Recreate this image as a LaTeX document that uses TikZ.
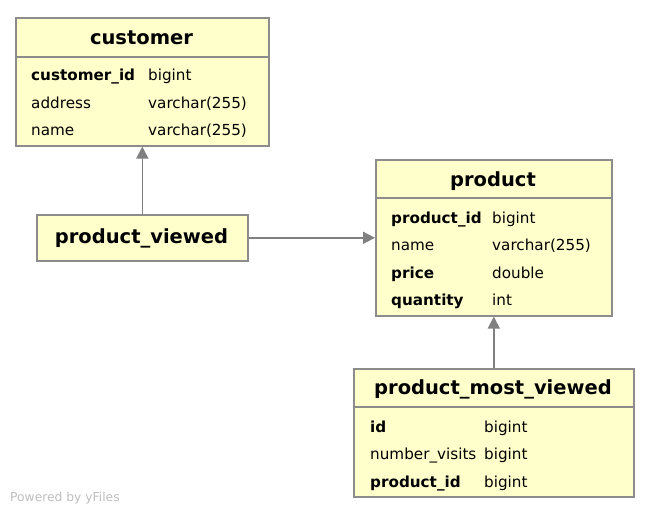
\documentclass[tikz,border=0pt]{standalone}
\usepackage{fontspec}
\setmainfont{DejaVu Sans}
\usepackage{tikz}
\usetikzlibrary{arrows.meta,positioning}
\definecolor{boxfill}{RGB}{255, 255, 204}
\definecolor{boxline}{RGB}{140, 140, 140}
\definecolor{linkgray}{RGB}{128, 128, 128}
\definecolor{credit}{RGB}{190, 190, 190}
\tikzstyle{table} = [rectangle, draw=boxline, line width=1.6pt, fill=boxfill, inner sep=0pt, anchor=north west]
\tikzstyle{title} = [inner sep=0pt, anchor=mid, text=black, font=\fontsize{19.5}{22}\selectfont\bfseries]
\tikzstyle{field} = [inner sep=0pt, anchor=mid west, text=black, font=\fontsize{15.2}{18}\selectfont]
\tikzstyle{key} = [field, font=\fontsize{15.2}{18}\selectfont\bfseries]
\tikzstyle{rule} = [draw=boxline, line width=1.6pt]
\tikzstyle{link} = [draw=linkgray, line width=1.6pt, -{Triangle[length=12pt,width=12pt]}]

\begin{document}
\begin{tikzpicture}[x=1pt, y=-1pt]

\useasboundingbox (0,0) rectangle (650,514);

% tables =============================

% customer
\node[table, minimum width=253pt, minimum height=128pt] (customer) at (15,17) {};
\draw[rule] (15,57) -- (268,57);
\node[title] (customer title) at (141.5,42) {customer};
\node[key] (cust id) at (31,78) {customer\_id};
\node[field] (cust id type) at (148,78) {bigint};
\node[field] (cust address) at (31,106) {address};
\node[field] (cust address type) at (148,106) {varchar(255)};
\node[field] (cust name) at (31,133) {name};
\node[field] (cust name type) at (148,133) {varchar(255)};

% product_viewed
\node[table, minimum width=211pt, minimum height=46pt] (viewed) at (36,214) {};
\node[title] (viewed title) at (141.5,241) {product\_viewed};

% product
\node[table, minimum width=236pt, minimum height=156pt] (product) at (375,159) {};
\draw[rule] (375,198) -- (611,198);
\node[title] (product title) at (493,184) {product};
\node[key] (prod id) at (391,221) {product\_id};
\node[field] (prod id type) at (492,221) {bigint};
\node[field] (prod name) at (391,248) {name};
\node[field] (prod name type) at (492,248) {varchar(255)};
\node[key] (prod price) at (391,276) {price};
\node[field] (prod price type) at (492,276) {double};
\node[key] (prod quantity) at (391,303) {quantity};
\node[field] (prod quantity type) at (492,303) {int};

% product_most_viewed
\node[table, minimum width=280pt, minimum height=128pt] (most) at (353,368) {};
\draw[rule] (353,407) -- (633,407);
\node[title] (most title) at (493,392) {product\_most\_viewed};
\node[key] (most id) at (370,430) {id};
\node[field] (most id type) at (484,430) {bigint};
\node[field] (most visits) at (370,457) {number\_visits};
\node[field] (most visits type) at (484,457) {bigint};
\node[key] (most prod) at (370,485) {product\_id};
\node[field] (most prod type) at (484,485) {bigint};

% credit
\node[field, text=credit, font=\fontsize{12.3}{14}\selectfont] (powered) at (10,499) {Powered by yFiles};

%edges
\path[link] (viewed) -- (customer);
\path[link] (viewed) -- (product);
\path[link] (most) -- (product);

\end{tikzpicture}
\end{document}
